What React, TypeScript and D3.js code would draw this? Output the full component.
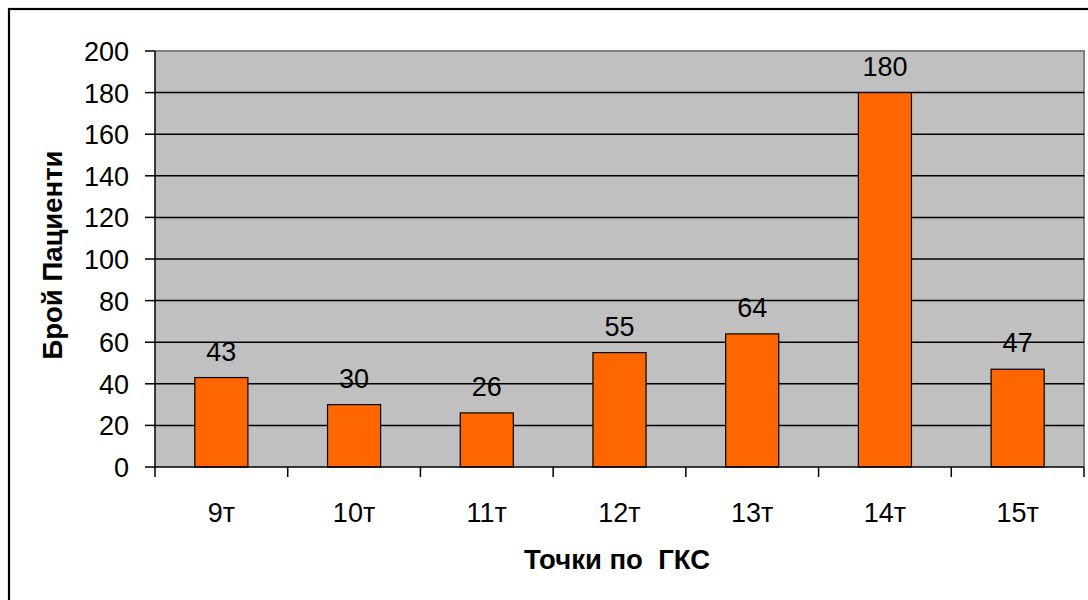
import React from "react";
import * as d3 from "d3";

// GCS score categories and patient counts
const categories: string[] = ["9т", "10т", "11т", "12т", "13т", "14т", "15т"];
const patients: number[] = [43, 30, 26, 55, 64, 180, 47];
const yTicks: number[] = [0, 20, 40, 60, 80, 100, 120, 140, 160, 180, 200];

const yTitle = "Брой Пациенти";
const xTitle = "Точки по  ГКС";

const W = 1088;
const H = 600;
const plot = { left: 155, right: 1084, top: 51, bottom: 467 };
const FONT = "'Liberation Sans', Arial, sans-serif";

export default function App() {
  const x = d3
    .scaleBand<string>()
    .domain(categories)
    .range([plot.left, plot.right])
    .padding(0);
  const y = d3.scaleLinear().domain([0, 200]).range([plot.bottom, plot.top]);
  const barW = x.bandwidth() * 0.4;
  const boundaries = [...categories.map((c) => x(c) as number), plot.right];

  return (
    <div style={{ position: "absolute", left: 0, top: 0 }}>
      <svg width={W} height={H} style={{ display: "block", background: "#fff" }}>
        {/* chart frame */}
        <rect x={9} y={9} width={1100} height={620} fill="none" stroke="#000" strokeWidth={2.2} />

        {/* plot area */}
        <rect
          x={plot.left}
          y={plot.top}
          width={plot.right - plot.left}
          height={plot.bottom - plot.top}
          fill="#C0C0C0"
        />
        <line x1={plot.left} x2={plot.right + 1} y1={plot.top} y2={plot.top} stroke="#808080" strokeWidth={2} />
        <line x1={plot.right} x2={plot.right} y1={plot.top} y2={plot.bottom} stroke="#808080" strokeWidth={2} />

        {/* gridlines */}
        {yTicks.slice(1, -1).map((t) => (
          <line key={t} x1={plot.left} x2={plot.right} y1={y(t)} y2={y(t)} stroke="#000" strokeWidth={1.5} />
        ))}

        {/* bars */}
        {categories.map((c, i) => (
          <rect
            key={c}
            x={(x(c) as number) + (x.bandwidth() - barW) / 2}
            y={y(patients[i])}
            width={barW}
            height={plot.bottom - y(patients[i])}
            fill="#FF6600"
            stroke="#000"
            strokeWidth={1.2}
          />
        ))}

        {/* value labels */}
        {categories.map((c, i) => (
          <text
            key={c}
            x={(x(c) as number) + x.bandwidth() / 2}
            y={y(patients[i]) - 17}
            textAnchor="middle"
            fontFamily={FONT}
            fontSize={27}
            fill="#000"
          >
            {patients[i]}
          </text>
        ))}

        {/* y axis */}
        <line x1={plot.left} x2={plot.left} y1={plot.top} y2={plot.bottom} stroke="#000" strokeWidth={1.5} />
        {yTicks.map((t) => (
          <g key={t}>
            <line x1={plot.left - 10} x2={plot.left} y1={y(t)} y2={y(t)} stroke="#000" strokeWidth={1.5} />
            <text
              x={129}
              y={y(t) + 10}
              textAnchor="end"
              fontFamily={FONT}
              fontSize={27}
              fill="#000"
            >
              {t}
            </text>
          </g>
        ))}

        {/* x axis */}
        <line x1={plot.left} x2={plot.right} y1={plot.bottom} y2={plot.bottom} stroke="#000" strokeWidth={1.5} />
        {boundaries.map((bx, i) => (
          <line key={i} x1={bx} x2={bx} y1={plot.bottom} y2={plot.bottom + 10} stroke="#000" strokeWidth={1.5} />
        ))}
        {categories.map((c) => (
          <text
            key={c}
            x={(x(c) as number) + x.bandwidth() / 2}
            y={522}
            textAnchor="middle"
            fontFamily={FONT}
            fontSize={27}
            fill="#000"
          >
            {c}
          </text>
        ))}

        {/* axis titles */}
        <text
          x={617}
          y={569}
          textAnchor="middle"
          fontFamily={FONT}
          fontSize={27.5}
          fontWeight="bold"
          fill="#000"
          style={{ whiteSpace: "pre" }}
        >
          {xTitle}
        </text>
        <text
          transform={`translate(62, 255) rotate(-90)`}
          textAnchor="middle"
          fontFamily={FONT}
          fontSize={27.5}
          fontWeight="bold"
          fill="#000"
        >
          {yTitle}
        </text>
      </svg>
    </div>
  );
}
